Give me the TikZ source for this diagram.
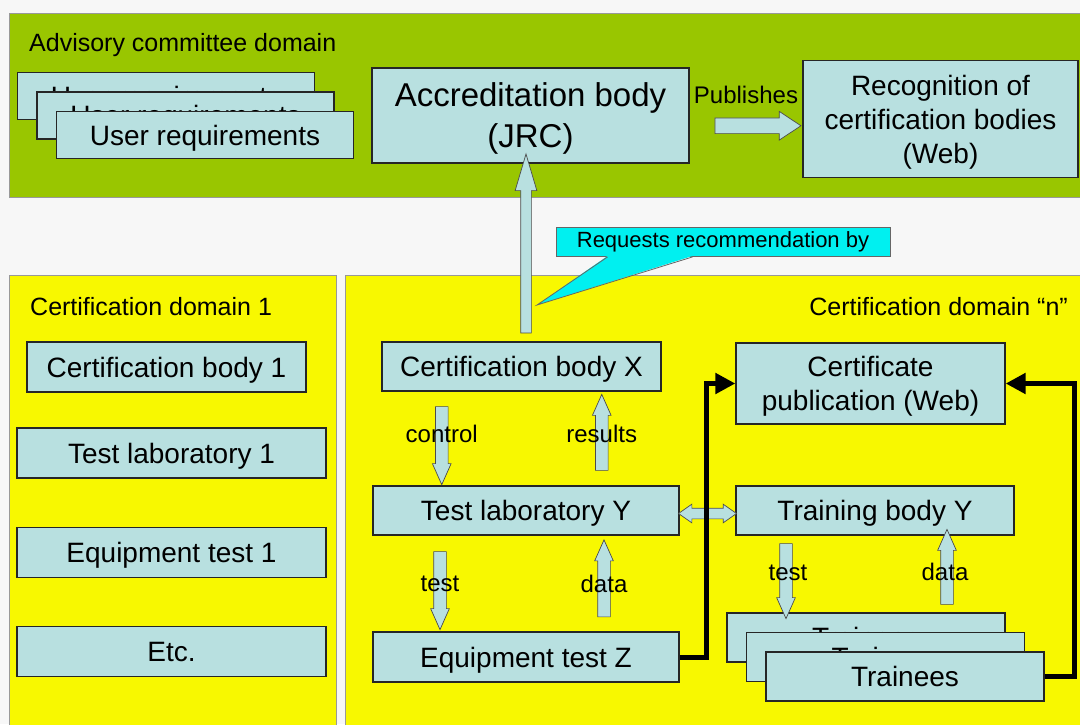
\documentclass[tikz,border=0pt]{standalone}
\usepackage{fontspec}
\setmainfont{Liberation Sans}
\usetikzlibrary{shapes.arrows,calc,positioning,arrows.meta}

\definecolor{boxblue}{RGB}{184,224,224}
\definecolor{advgreen}{RGB}{153,198,0}
\definecolor{domyellow}{RGB}{248,248,0}
\definecolor{callcyan}{RGB}{0,240,240}
\definecolor{bggrey}{RGB}{247,247,247}

\begin{document}
\begin{tikzpicture}[x=1pt,y=-1pt]
        \tikzstyle{box}=[draw=black!85,fill=boxblue,line width=1.3pt,inner sep=0pt,text depth=0pt,align=center,font=\fontsize{28}{34}\selectfont]
        \tikzstyle{panel}=[draw=black!40,line width=0.8pt]
        \tikzstyle{dlabel}=[inner sep=0pt,font=\fontsize{25}{30}\selectfont]
        \tikzstyle{alabel}=[inner sep=0pt,font=\fontsize{24}{28}\selectfont]
        \tikzstyle{blk}=[single arrow,draw=black!70,fill=boxblue,line width=0.7pt,inner xsep=0pt,inner ysep=6pt,single arrow head extend=3pt,single arrow tip angle=48]
        \tikzstyle{dblk}=[double arrow,draw=black!70,fill=boxblue,line width=0.7pt,inner xsep=0pt,inner ysep=5pt,double arrow head extend=4pt,double arrow tip angle=70]
        \tikzstyle{conn}=[line width=5pt,-{Triangle[length=20pt,width=20pt]}]

        \useasboundingbox (0,0) rectangle (1080,724);
        \fill[bggrey] (0,0) rectangle (1080,724);

        %domains
        \filldraw[panel,fill=advgreen] (9,13) rectangle (1090,197);
        \filldraw[panel,fill=domyellow] (9,275) rectangle (336,740);
        \filldraw[panel,fill=domyellow] (345,275) rectangle (1090,740);

        \node[dlabel,anchor=west] (advlbl) at (29,45) {Advisory committee domain};
        \node[dlabel,anchor=west] (dom1lbl) at (30,307) {Certification domain 1};
        \node[dlabel,anchor=east] (domnlbl) at (1068,307) {Certification domain “n”};

        %advisory committee
        \foreach \i/\dx in {1/0,2/19.5,3/39} {
            \node[box,minimum width=297,minimum height=47] (ur\i) at (166+\dx,96+\dx) {User requirements};
        };
        \node[box,minimum width=317,minimum height=95,font=\fontsize{33}{41}\selectfont] (jrc) at (530.5,115.5) {Accreditation body\\(JRC)};
        \node[box,minimum width=275,minimum height=117] (rec) at (940.5,119) {Recognition of\\certification bodies\\(Web)};
        \node[alabel] (publbl) at (746,95) {Publishes};
        \node[blk,inner ysep=7.5pt,single arrow head extend=6.5pt,single arrow tip angle=67,minimum height=86] (pubarr) at ($(jrc.east)!.5!(rec.west)+(6,8.5)$) {};

        %certification domain 1
        \node[box,minimum width=279,minimum height=50] (cb1) at (166.5,367) {Certification body 1};
        \node[box,minimum width=309,minimum height=50] (tl1) at (171.5,453) {Test laboratory 1};
        \node[box,minimum width=309,minimum height=50,below=48pt of tl1] (et1) {Equipment test 1};
        \node[box,minimum width=309,minimum height=50,below=48pt of et1] (etc1) {Etc.};

        %certification domain n
        \node[box,minimum width=279,minimum height=49] (cbx) at (521.5,366.5) {Certification body X};
        \node[box,minimum width=269,minimum height=81] (cpub) at (870.5,383.5) {Certificate\\publication (Web)};
        \node[box,minimum width=306,minimum height=49] (tly) at (526,510.5) {Test laboratory Y};
        \node[box,minimum width=278,minimum height=49] (tby) at (875,510.5) {Training body Y};
        \node[box,minimum width=306,minimum height=50] (etz) at (526,657) {Equipment test Z};
        \foreach \i/\dx in {1/0,2/19.5,3/39} {
            \node[box,minimum width=278,minimum height=49] (tr\i) at (866+\dx,637.5+\dx) {Trainees};
        };

        %callout
        \node[font=\fontsize{22}{26}\selectfont,fill=callcyan,draw=black!60,line width=0.8pt,minimum width=334,minimum height=29,inner sep=0pt] (req) at (723,242) {Requests recommendation by};
        \coordinate (reqtip) at (537,305);
        \fill[callcyan] ($(req.south west)+(52,-1)$) -- (reqtip) -- ($(req.south west)+(137,-1)$) -- cycle;
        \draw[black!60,line width=0.8pt] ($(req.south west)+(52,0)$) -- (reqtip) -- ($(req.south west)+(137,0)$);

        %block arrows
        \node[blk,rotate=90,inner ysep=5pt,single arrow head extend=5.5pt,single arrow tip angle=33,minimum height=179] (reqarr) at ($(cbx.north)!.5!(jrc.south)$) {};
        \node[blk,rotate=-90,minimum height=78] (ctrl) at ($(cbx.south)!.5!(tly.north)+(-82,0)$) {};
        \node[blk,rotate=90,minimum height=76] (res) at ($(cbx.south)!.5!(tly.north)+(78,1)$) {};
        \node[blk,rotate=-90,minimum height=78] (tst) at ($(tly.south)!.5!(etz.north)+(-86,0)$) {};
        \node[blk,rotate=90,minimum height=77] (dat) at ($(tly.south)!.5!(etz.north)+(78,2)$) {};
        \node[blk,rotate=-90,minimum height=75] (ttst) at ($(tby.south)!.5!(tr1.north)+(-84.5,0)$) {};
        \node[blk,rotate=90,minimum height=75] (tdat) at ($(tby.south)!.5!(tr1.north)+(76.5,0)$) {};
        \node[dblk,minimum height=58] (tlarr) at ($(tly.east)!.5!(tby.west)+(0,3)$) {};

        %label the arrows
        \node[alabel] (ctrllbl) at ($(ctrl)+(0,-5)$) {control};
        \node[alabel] (reslbl) at ($(res)+(0,-6)$) {results};
        \node[alabel] (tstlbl) at (tst) {test};
        \node[alabel] (datlbl) at ($(dat)+(0,-2)$) {data};
        \node[alabel] (ttstlbl) at ($(ttst)+(2,-1)$) {test};
        \node[alabel] (tdatlbl) at ($(tdat)+(-2,-2)$) {data};

        %publication links
        \draw[conn] (etz.east) -- ++(27,0) |- (cpub.west);
        \draw[conn] (tr3.east) -- ++(30,0) |- (cpub.east);
\end{tikzpicture}
\end{document}
